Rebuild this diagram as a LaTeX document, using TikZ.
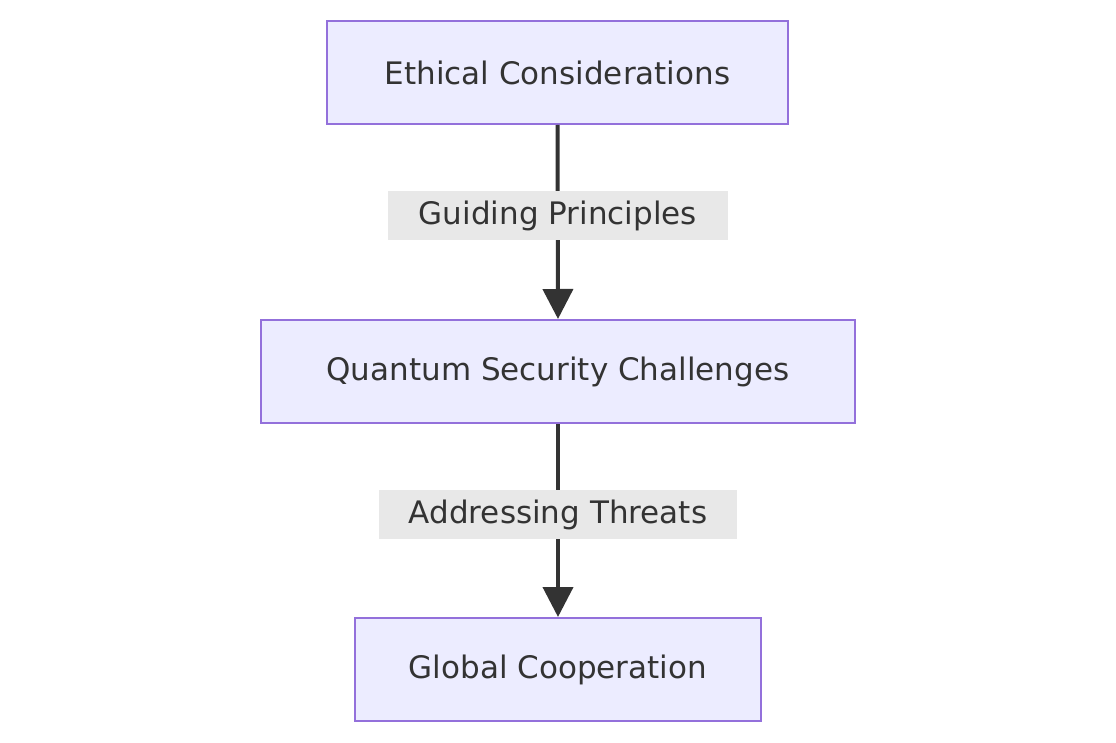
\documentclass[tikz,border=0pt]{standalone}
\usepackage{fontspec}
\setmainfont{DejaVu Sans}
\usetikzlibrary{arrows.meta}
\definecolor{boxfill}{HTML}{ECECFF}
\definecolor{boxline}{HTML}{9370DB}
\definecolor{lblbg}{HTML}{E8E8E8}
\definecolor{ink}{HTML}{333333}
\begin{document}
\begin{tikzpicture}[x=1pt,y=-1pt,
  box/.style={draw=boxline,fill=boxfill,line width=2pt,inner sep=0pt,text=ink,font=\fontsize{31}{36}\selectfont},
  lbl/.style={fill=lblbg,inner sep=0pt,text=ink,font=\fontsize{31}{36}\selectfont},
  conn/.style={draw=ink,line width=4pt,-{Triangle[length=30pt,width=30pt]}}]
\useasboundingbox (0,0) rectangle (1116,743);
\node[box,minimum width=461pt,minimum height=103pt] (a) at (557.5,72.5) {Ethical Considerations};
\node[box,minimum width=594pt,minimum height=103pt] (b) at (558,371.5) {Quantum Security Challenges};
\node[box,minimum width=406pt,minimum height=103pt] (c) at (558,669.5) {Global Cooperation};
\draw[conn] (a.south) -- (b.north);
\draw[conn] (b.south) -- (c.north);
\node[lbl,minimum width=340pt,minimum height=49pt] (l1) at (558,215.5) {Guiding Principles};
\node[lbl,minimum width=358pt,minimum height=49pt] (l2) at (558,514.5) {Addressing Threats};
\end{tikzpicture}
\end{document}
